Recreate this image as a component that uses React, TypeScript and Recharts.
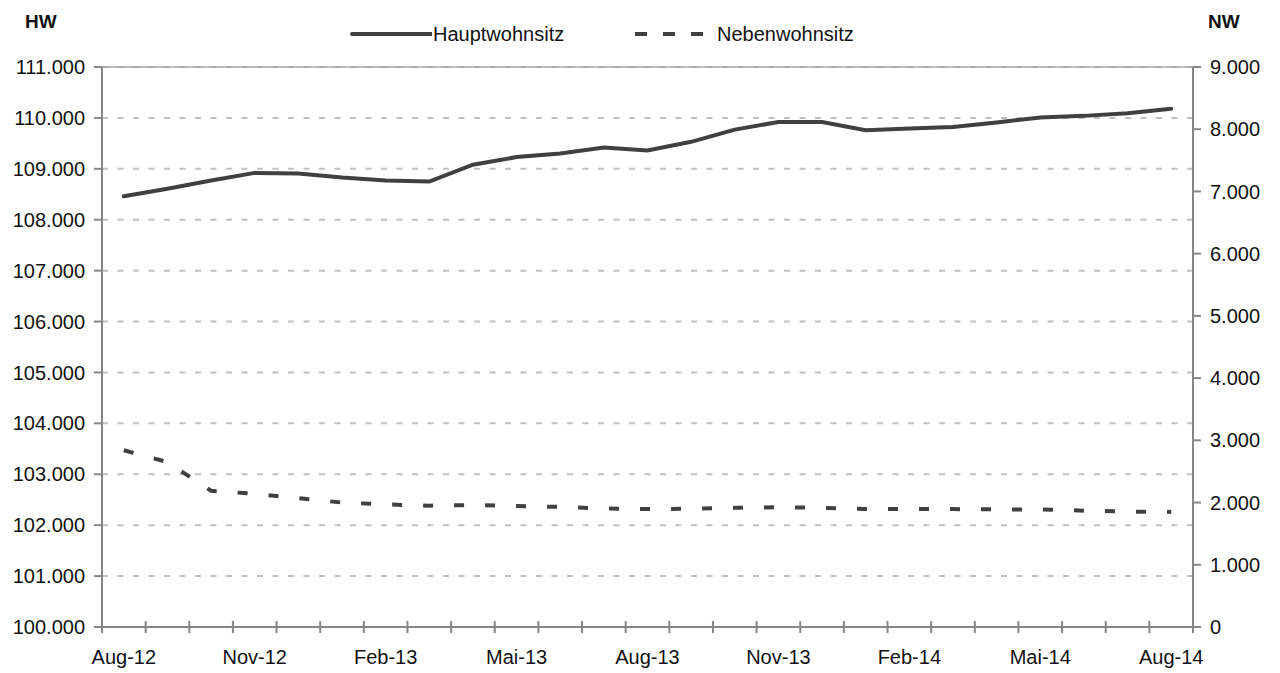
import { LineChart, Line, XAxis, YAxis, CartesianGrid, ReferenceLine } from "recharts";

const months = [
  "Aug-12", "Sep-12", "Okt-12", "Nov-12", "Dez-12", "Jan-13", "Feb-13", "Mär-13", "Apr-13",
  "Mai-13", "Jun-13", "Jul-13", "Aug-13", "Sep-13", "Okt-13", "Nov-13", "Dez-13", "Jan-14",
  "Feb-14", "Mär-14", "Apr-14", "Mai-14", "Jun-14", "Jul-14", "Aug-14",
];
const hauptwohnsitz = [
  108460, 108610, 108770, 108920, 108910, 108830, 108770, 108750, 109080, 109230, 109300, 109420,
  109360, 109530, 109770, 109920, 109920, 109760, 109790, 109820, 109910, 110010, 110040, 110090, 110180,
];
const nebenwohnsitz = [
  2840, 2650, 2190, 2140, 2070, 2000, 1970, 1950, 1960, 1945, 1930, 1905,
  1895, 1900, 1915, 1925, 1915, 1895, 1895, 1895, 1890, 1890, 1870, 1855, 1850,
];
const hwTicks = [100000, 101000, 102000, 103000, 104000, 105000, 106000, 107000, 108000, 109000, 110000, 111000];
const nwTicks = [0, 1000, 2000, 3000, 4000, 5000, 6000, 7000, 8000, 9000];

const data = months.map((m, i) => ({ month: m, hw: hauptwohnsitz[i], nw: nebenwohnsitz[i] }));

const W = 1280;
const H = 673;
const LEFT_W = 102;
const RIGHT_W = 87;
const STEP = (W - LEFT_W - RIGHT_W) / months.length;
const FONT = "'Liberation Sans', Arial, sans-serif";
const AXIS = "#868686";
const LINE = "#404040";
const TEXT = "#111";

const fmt = (v: number) => String(v).replace(/\B(?=(\d{3})+(?!\d))/g, ".");

// tick marks sit on month boundaries, labels every 3rd month in the middle
const MonthTick = (props: any) => {
  const { x, y, payload, index } = props;
  const half = STEP / 2;
  return (
    <g>
      <line x1={x - half} x2={x - half} y1={y - 6} y2={y + 6} stroke={AXIS} strokeWidth={2} />
      {index === months.length - 1 && (
        <line x1={x + half} x2={x + half} y1={y - 6} y2={y + 6} stroke={AXIS} strokeWidth={2} />
      )}
      {index % 3 === 0 && (
        <text x={x} y={y + 37} textAnchor="middle" fill={TEXT} fontSize={20} fontFamily={FONT}>
          {payload.value}
        </text>
      )}
    </g>
  );
};

export default function App() {
  return (
    <div style={{ position: "absolute", left: 0, top: 0, width: W, height: H, background: "#fff", fontFamily: FONT }}>
      <LineChart width={W} height={H} data={data} margin={{ top: 67, right: 0, bottom: 0, left: 0 }}>
        <CartesianGrid yAxisId="hw" vertical={false} stroke="#c0c0c0" strokeWidth={2} strokeDasharray="6 9.5" />
        <ReferenceLine yAxisId="hw" y={111000} stroke="#a6a6a6" strokeWidth={1.5} />
        <XAxis
          dataKey="month"
          interval={0}
          padding={{ left: STEP / 2, right: STEP / 2 }}
          height={46}
          tickLine={false}
          tickSize={0}
          tickMargin={0}
          axisLine={{ stroke: AXIS, strokeWidth: 2 }}
          tick={<MonthTick />}
        />
        <YAxis
          yAxisId="hw"
          orientation="left"
          width={LEFT_W}
          domain={[100000, 111000]}
          ticks={hwTicks}
          tickFormatter={fmt}
          tickSize={8}
          tickMargin={9}
          axisLine={{ stroke: AXIS, strokeWidth: 2 }}
          tickLine={{ stroke: AXIS, strokeWidth: 2 }}
          tick={{ fill: TEXT, fontSize: 20, fontFamily: FONT }}
          label={{
            content: () => (
              <text x={25} y={28} fill={TEXT} fontSize={19} fontWeight="bold" fontFamily={FONT}>HW</text>
            ),
          }}
        />
        <YAxis
          yAxisId="nw"
          orientation="right"
          width={RIGHT_W}
          domain={[0, 9000]}
          ticks={nwTicks}
          tickFormatter={fmt}
          tickSize={8}
          tickMargin={9}
          axisLine={{ stroke: AXIS, strokeWidth: 2 }}
          tickLine={{ stroke: AXIS, strokeWidth: 2 }}
          tick={{ fill: TEXT, fontSize: 20, fontFamily: FONT, textAnchor: "start" }}
          label={{
            content: () => (
              <text x={1208} y={28} fill={TEXT} fontSize={19} fontWeight="bold" fontFamily={FONT}>NW</text>
            ),
          }}
        />
        <Line
          yAxisId="hw"
          type="linear"
          dataKey="hw"
          stroke={LINE}
          strokeWidth={4}
          strokeLinecap="round"
          dot={false}
          activeDot={false}
          isAnimationActive={false}
        />
        <Line
          yAxisId="nw"
          type="linear"
          dataKey="nw"
          stroke={LINE}
          strokeWidth={4}
          strokeDasharray="10 21"
          dot={false}
          activeDot={false}
          isAnimationActive={false}
        />
      </LineChart>
      <div style={{ position: "absolute", left: 350, top: 22, display: "flex", alignItems: "center", fontSize: 20, color: TEXT }}>
        <svg width={82} height={24}>
          <line x1={2} x2={82} y1={12} y2={12} stroke={LINE} strokeWidth={4} strokeLinecap="round" />
        </svg>
        <span style={{ marginLeft: 1 }}>Hauptwohnsitz</span>
      </div>
      <div style={{ position: "absolute", left: 635, top: 22, display: "flex", alignItems: "center", fontSize: 20, color: TEXT }}>
        <svg width={72} height={24}>
          <line x1={0} x2={72} y1={12} y2={12} stroke={LINE} strokeWidth={4} strokeDasharray="12 16" />
        </svg>
        <span style={{ marginLeft: 10 }}>Nebenwohnsitz</span>
      </div>
    </div>
  );
}
